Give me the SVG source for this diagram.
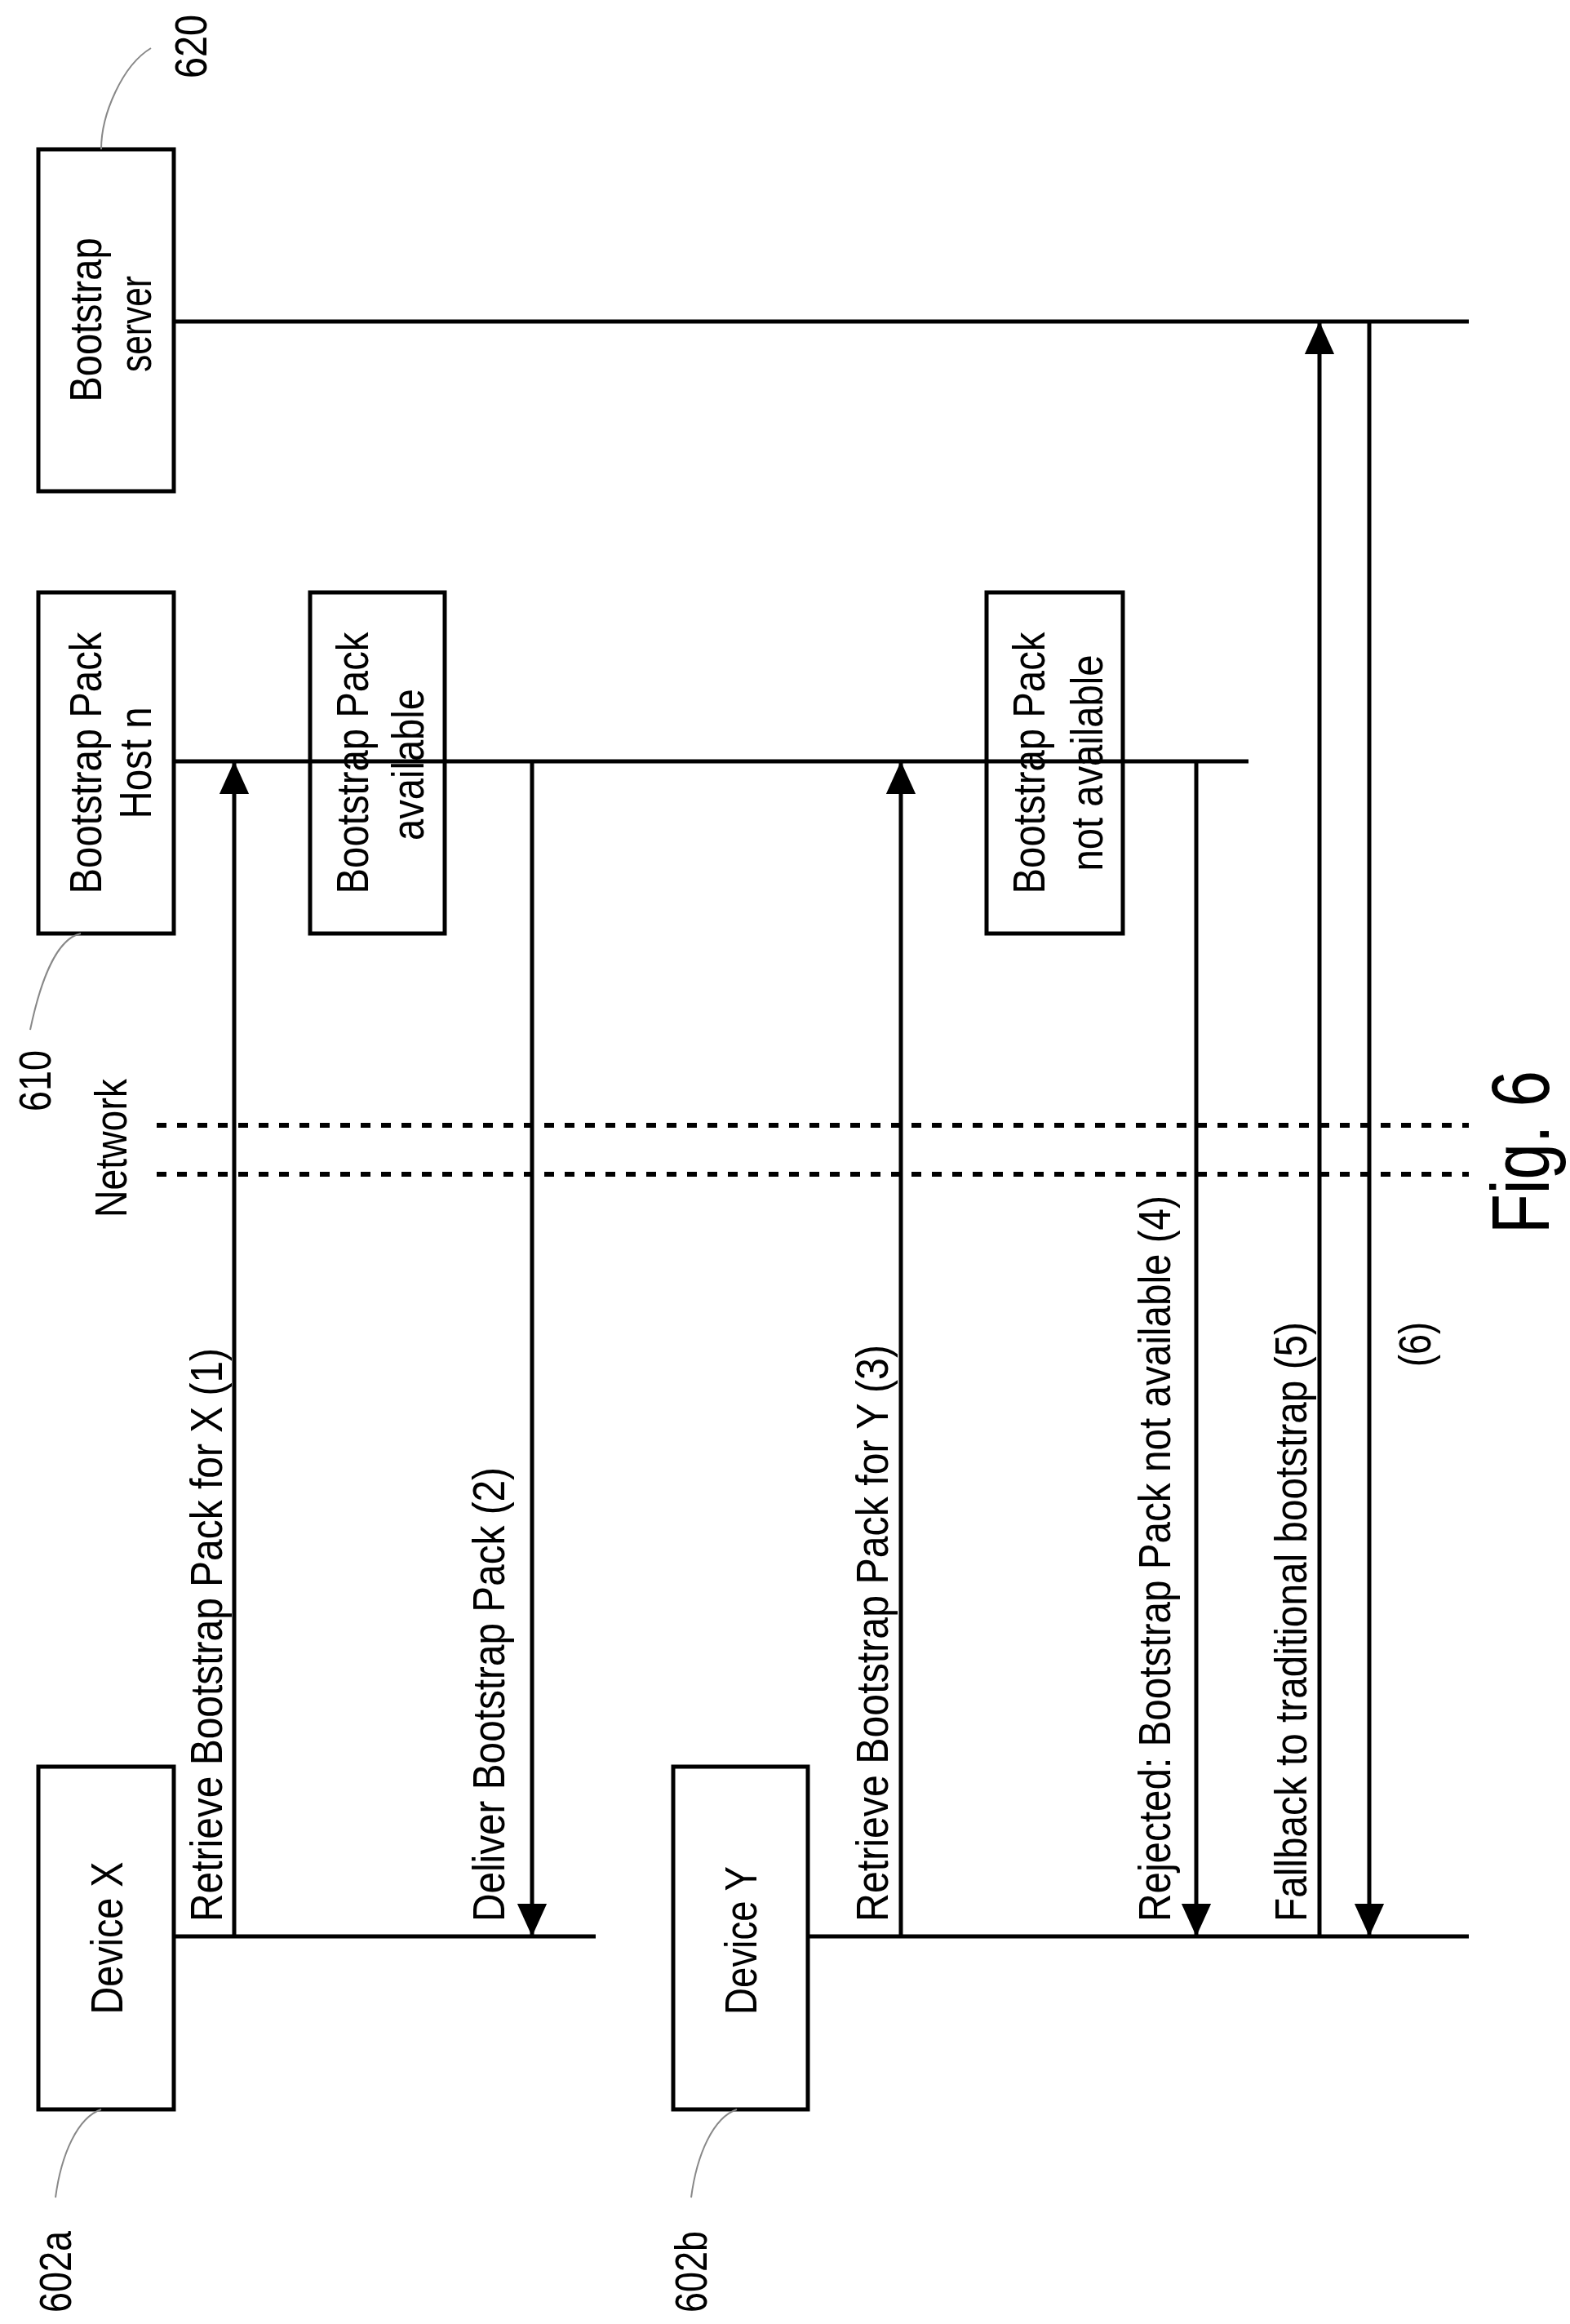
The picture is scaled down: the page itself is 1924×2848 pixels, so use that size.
<svg xmlns="http://www.w3.org/2000/svg" width="1924" height="2848" viewBox="0 0 1924 2848">
<style>
.box{fill:#fff;stroke:#000;stroke-width:5}
.ln{stroke:#000;stroke-width:5;fill:none}
.dash{stroke:#000;stroke-width:6;stroke-dasharray:12 13;fill:none}
.lead{stroke:#888;stroke-width:2;fill:none}
text{font-family:"Liberation Sans",Arial,sans-serif;font-size:56px;fill:#000}
.c{text-anchor:middle}
</style>
<defs>
<marker id="ah" markerUnits="userSpaceOnUse" markerWidth="40" markerHeight="44" refX="42" refY="19" orient="auto" viewBox="0 0 42 38">
<path d="M0,0 L42,19 L0,38 Z" fill="#000"/>
</marker>
</defs>
<rect width="1924" height="2848" fill="#fff"/>
<g id="server">
<rect class="box" x="47" y="183" width="166" height="419"/>
<text class="c" transform="translate(124,392) rotate(-90)" textLength="201" lengthAdjust="spacingAndGlyphs">Bootstrap</text>
<text class="c" transform="translate(185,397) rotate(-90)" textLength="118" lengthAdjust="spacingAndGlyphs">server</text>
<path class="lead" d="M185,59 C150,80 124,140 124,183"/>
<text transform="translate(253,96) rotate(-90)" textLength="78" lengthAdjust="spacingAndGlyphs">620</text>
</g>
<g id="host">
<rect class="box" x="47" y="726" width="166" height="418"/>
<text class="c" transform="translate(124,935) rotate(-90)" textLength="321" lengthAdjust="spacingAndGlyphs">Bootstrap Pack</text>
<text class="c" transform="translate(185,935) rotate(-90)" textLength="137" lengthAdjust="spacingAndGlyphs">Host n</text>
<path class="lead" d="M37,1262 C50,1200 70,1150 99,1144"/>
<text transform="translate(62,1362) rotate(-90)" textLength="75" lengthAdjust="spacingAndGlyphs">610</text>
</g>
<g id="avail">
<rect class="box" x="380" y="726" width="165" height="418"/>
<text class="c" transform="translate(451,935) rotate(-90)" textLength="321" lengthAdjust="spacingAndGlyphs">Bootstrap Pack</text>
<text class="c" transform="translate(519,937) rotate(-90)" textLength="186" lengthAdjust="spacingAndGlyphs">available</text>
</g>
<g id="notavail">
<rect class="box" x="1209" y="726" width="167" height="418"/>
<text class="c" transform="translate(1280,935) rotate(-90)" textLength="321" lengthAdjust="spacingAndGlyphs">Bootstrap Pack</text>
<text class="c" transform="translate(1351,935) rotate(-90)" textLength="265" lengthAdjust="spacingAndGlyphs">not available</text>
</g>
<g id="devx">
<rect class="box" x="47" y="2165" width="166" height="420"/>
<text class="c" transform="translate(150,2375) rotate(-90)" textLength="187" lengthAdjust="spacingAndGlyphs">Device X</text>
<path class="lead" d="M68,2693 C75,2640 95,2595 124,2585"/>
<text transform="translate(87,2834) rotate(-90)" textLength="100" lengthAdjust="spacingAndGlyphs">602a</text>
</g>
<g id="devy">
<rect class="box" x="825" y="2165" width="165" height="420"/>
<text class="c" transform="translate(927,2378) rotate(-90)" textLength="182" lengthAdjust="spacingAndGlyphs">Device Y</text>
<path class="lead" d="M847,2693 C854,2640 874,2595 903,2585"/>
<text transform="translate(866,2834) rotate(-90)" textLength="100" lengthAdjust="spacingAndGlyphs">602b</text>
</g>
<g id="network">
<line class="dash" x1="192" y1="1379" x2="1800" y2="1379"/>
<line class="dash" x1="192" y1="1439" x2="1800" y2="1439"/>
<text transform="translate(155,1492) rotate(-90)" textLength="170" lengthAdjust="spacingAndGlyphs">Network</text>
</g>
<g id="connectors">
<line class="ln" x1="213" y1="394" x2="1800" y2="394"/>
<line class="ln" x1="213" y1="933" x2="1530" y2="933"/>
<line class="ln" x1="213" y1="2373" x2="730" y2="2373"/>
<line class="ln" x1="990" y1="2373" x2="1800" y2="2373"/>
<line class="ln" x1="287" y1="2373" x2="287" y2="933" marker-end="url(#ah)"/>
<line class="ln" x1="652" y1="933" x2="652" y2="2373" marker-end="url(#ah)"/>
<line class="ln" x1="1104" y1="2373" x2="1104" y2="933" marker-end="url(#ah)"/>
<line class="ln" x1="1466" y1="933" x2="1466" y2="2373" marker-end="url(#ah)"/>
<line class="ln" x1="1617" y1="2373" x2="1617" y2="394" marker-end="url(#ah)"/>
<line class="ln" x1="1678" y1="394" x2="1678" y2="2373" marker-end="url(#ah)"/>
<text transform="translate(272,2355) rotate(-90)" textLength="703" lengthAdjust="spacingAndGlyphs">Retrieve Bootstrap Pack for X (1)</text>
<text transform="translate(618,2355) rotate(-90)" textLength="557" lengthAdjust="spacingAndGlyphs">Deliver Bootstrap Pack (2)</text>
<text transform="translate(1088,2355) rotate(-90)" textLength="707" lengthAdjust="spacingAndGlyphs">Retrieve Bootstrap Pack for Y (3)</text>
<text transform="translate(1434,2355) rotate(-90)" textLength="890" lengthAdjust="spacingAndGlyphs">Rejected: Bootstrap Pack not available (4)</text>
<text transform="translate(1601,2355) rotate(-90)" textLength="735" lengthAdjust="spacingAndGlyphs">Fallback to traditional bootstrap (5)</text>
<text transform="translate(1753,1675) rotate(-90)" textLength="55" lengthAdjust="spacingAndGlyphs">(6)</text>
</g>
<text transform="translate(1898,1512) rotate(-90)" style="font-size:100px" textLength="200" lengthAdjust="spacingAndGlyphs">Fig. 6</text>
</svg>
